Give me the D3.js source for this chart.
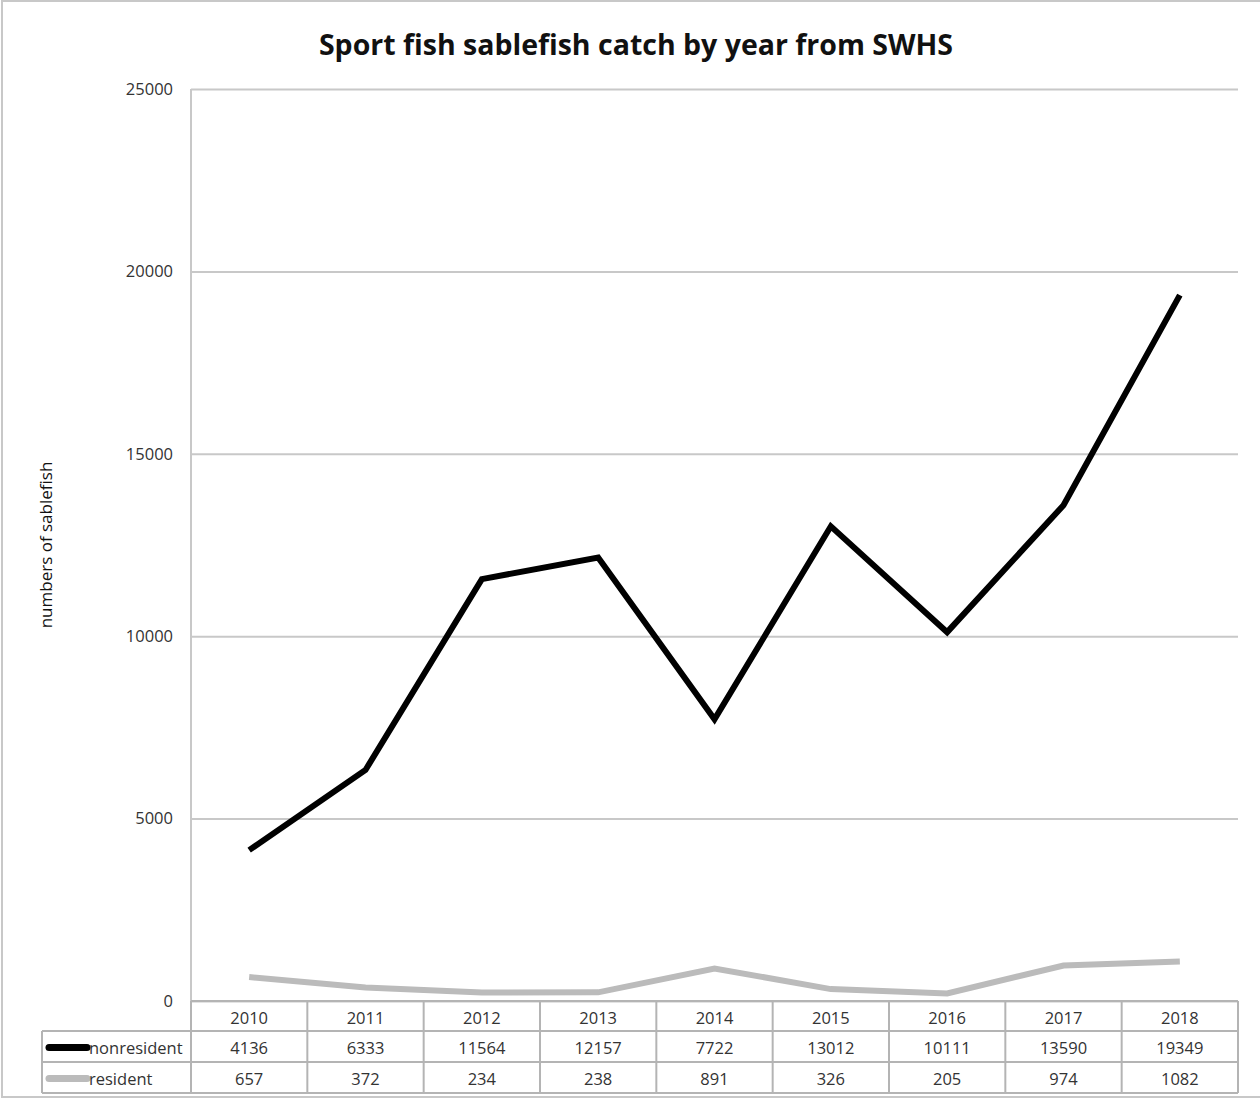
<!DOCTYPE html>
<html>
<head>
<meta charset="utf-8">
<script src="https://cdn.jsdelivr.net/npm/d3@7"></script>
<style>
  body { margin: 0; background: #fff; }
  svg { display: block; font-family: "Open Sans", Lato, sans-serif; }
</style>
</head>
<body>
<div id="container"></div>
<script>
// podaci
const years = ["2010", "2011", "2012", "2013", "2014", "2015", "2016", "2017", "2018"];
const nonresident = [4136, 6333, 11564, 12157, 7722, 13012, 10111, 13590, 19349];
const resident = [657, 372, 234, 238, 891, 326, 205, 974, 1082];
const yTicks = [0, 5000, 10000, 15000, 20000, 25000];
const seriesNames = ["nonresident", "resident"];

const width = 1260;
const height = 1101;
const plot = { left: 191, right: 1238, top: 89, bottom: 1001 };
const gridColor = "#c8c8c8";
const tableColor = "#b4b4b4";
const textColor = "#333";
const fontSize = "16.5px";
const colors = { nonresident: "#000000", resident: "#bbbbbb" };

const svg = d3
  .select("#container")
  .append("svg")
  .attr("width", width)
  .attr("height", height);

// okvir
svg
  .append("rect")
  .attr("x", 2)
  .attr("y", 1)
  .attr("width", 1262)
  .attr("height", 1096)
  .attr("fill", "none")
  .attr("stroke", "#c8c8c8")
  .attr("stroke-width", 2);

// naslov
svg
  .append("text")
  .attr("x", 636)
  .attr("y", 55)
  .attr("text-anchor", "middle")
  .style("font-size", "28.5px")
  .style("font-weight", "bold")
  .attr("fill", "#111")
  .text("Sport fish sablefish catch by year from SWHS");

const xScale = d3.scaleBand().domain(years).range([plot.left, plot.right]);
const yScale = d3.scaleLinear().domain([0, 25000]).range([plot.bottom, plot.top]);
const xMid = (d) => xScale(d) + xScale.bandwidth() / 2;

// linije mreze
svg
  .append("g")
  .attr("transform", `translate(${plot.left},0)`)
  .call(
    d3.axisLeft(yScale)
      .tickValues(yTicks)
      .tickSize(-(plot.right - plot.left))
      .tickPadding(18)
      .tickFormat(d3.format("d"))
  )
  .call((g) => g.select(".domain").remove())
  .call((g) => g.selectAll("line").attr("stroke", gridColor).attr("stroke-width", 2))
  .call((g) =>
    g.selectAll("text")
      .attr("fill", textColor)
      .style("font-size", fontSize)
      .style("font-family", "'Open Sans', Lato, sans-serif")
  );

// y os
svg
  .append("line")
  .attr("x1", plot.left)
  .attr("x2", plot.left)
  .attr("y1", plot.top)
  .attr("y2", plot.bottom)
  .attr("stroke", gridColor)
  .attr("stroke-width", 2);

// naslov y osi
svg
  .append("text")
  .attr("transform", `translate(46, 545) rotate(-90)`)
  .attr("text-anchor", "middle")
  .attr("dy", "0.35em")
  .style("font-size", "17px")
  .attr("fill", "#111")
  .text("numbers of sablefish");

// linije
const line = d3
  .line()
  .x((d, i) => xMid(years[i]))
  .y((d) => yScale(d));

const series = [
  { name: "nonresident", values: nonresident },
  { name: "resident", values: resident },
];

svg
  .selectAll(".series")
  .data(series.slice().reverse())
  .enter()
  .append("path")
  .attr("class", "series")
  .attr("d", (d) => line(d.values))
  .attr("fill", "none")
  .attr("stroke", (d) => colors[d.name])
  .attr("stroke-width", 6)
  .attr("stroke-linejoin", "miter");

// tablica podataka
const rowTops = [1001, 1031, 1062, 1093];
const tableLeft = 42;
const table = svg.append("g");

const rowMid = (r) => (rowTops[r] + rowTops[r + 1]) / 2 + 2;

// horizontalne linije
table
  .selectAll(".hline")
  .data(rowTops)
  .enter()
  .append("line")
  .attr("x1", (d, i) => (i === 0 ? plot.left : tableLeft))
  .attr("x2", plot.right)
  .attr("y1", (d) => d)
  .attr("y2", (d) => d)
  .attr("stroke", tableColor)
  .attr("stroke-width", 2);

// vertikalne linije
const vEdges = years.map((y) => xScale(y)).concat([plot.right]);
table
  .selectAll(".vline")
  .data(vEdges)
  .enter()
  .append("line")
  .attr("x1", (d) => d)
  .attr("x2", (d) => d)
  .attr("y1", rowTops[0])
  .attr("y2", rowTops[3])
  .attr("stroke", tableColor)
  .attr("stroke-width", 2);

table
  .append("line")
  .attr("x1", tableLeft)
  .attr("x2", tableLeft)
  .attr("y1", rowTops[1])
  .attr("y2", rowTops[3])
  .attr("stroke", tableColor)
  .attr("stroke-width", 2);

// zaglavlje godina
table
  .selectAll(".year")
  .data(years)
  .enter()
  .append("text")
  .attr("x", xMid)
  .attr("y", rowMid(0))
  .attr("dy", "0.35em")
  .attr("text-anchor", "middle")
  .style("font-size", fontSize)
  .attr("fill", textColor)
  .text((d) => d);

series.forEach((s, r) => {
  const y = rowMid(r + 1);
  table
    .append("line")
    .attr("x1", 49)
    .attr("x2", 87)
    .attr("y1", y - 1)
    .attr("y2", y - 1)
    .attr("stroke", colors[s.name])
    .attr("stroke-width", 7)
    .attr("stroke-linecap", "round");
  table
    .append("text")
    .attr("x", 89)
    .attr("y", y)
    .attr("dy", "0.35em")
    .style("font-size", fontSize)
    .attr("fill", textColor)
    .text(s.name);
  table
    .selectAll(".val" + r)
    .data(s.values)
    .enter()
    .append("text")
    .attr("x", (d, i) => xMid(years[i]))
    .attr("y", y)
    .attr("dy", "0.35em")
    .attr("text-anchor", "middle")
    .style("font-size", fontSize)
    .attr("fill", textColor)
    .text((d) => d);
});
</script>
</body>
</html>
